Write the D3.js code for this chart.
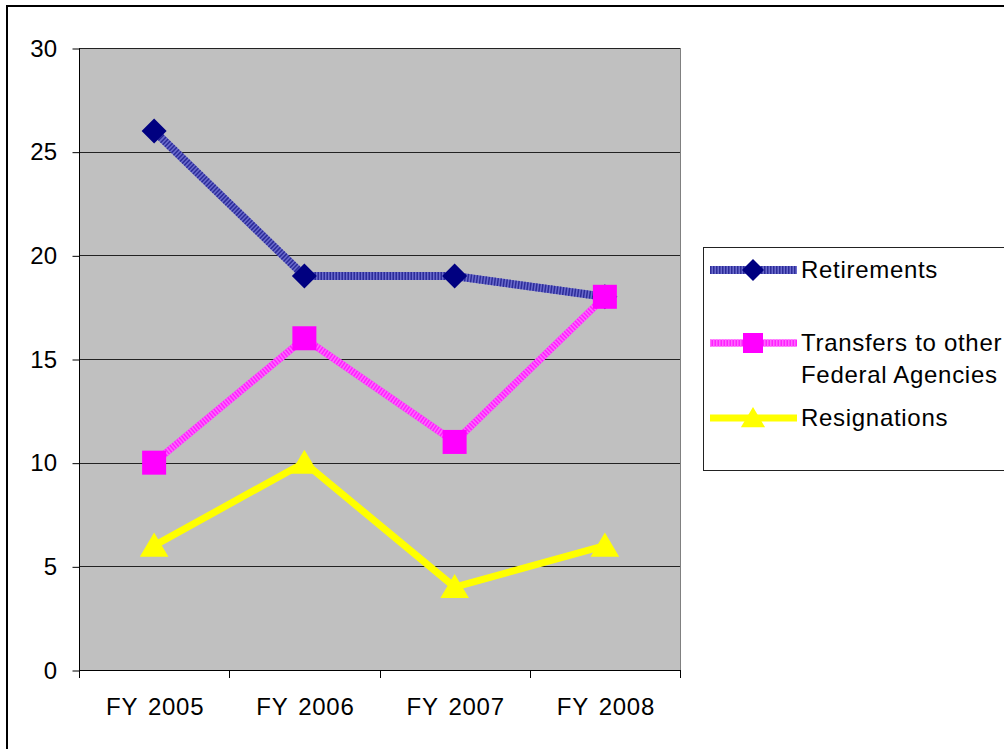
<!DOCTYPE html>
<html><head><meta charset="utf-8">
<script src="https://cdn.jsdelivr.net/npm/d3@7"></script>
<style>body{margin:0;background:#fff;}svg{display:block;font-family:"Liberation Sans",Arial,sans-serif;}</style>
</head><body>
<script>
const categories = ["FY 2005","FY 2006","FY 2007","FY 2008"];
const retirements = [26,19,19,18];
const transfers = [10,16,11,18];
const resignations = [6,10,4,6];
const yTicks = [0,5,10,15,20,25,30];
const seriesNames = ["Retirements","Transfers to other|Federal Agencies","Resignations"];

const W=1004,H=749;
const svg=d3.select("body").append("svg").attr("width",W).attr("height",H);
svg.append("rect").attr("x",7).attr("y",6).attr("width",1100).attr("height",900)
  .attr("fill","#fff").attr("stroke","#000").attr("stroke-width",2);

const plot={l:79,r:680,t:48,b:670};
const x=d3.scaleBand().domain(categories).range([plot.l,plot.r]);
const y=d3.scaleLinear().domain([0,30]).range([plot.b,plot.t]);

svg.append("rect").attr("x",plot.l).attr("y",plot.t).attr("width",plot.r-plot.l).attr("height",plot.b-plot.t)
  .attr("fill","#c0c0c0");
svg.append("line").attr("x1",plot.r+0.5).attr("x2",plot.r+0.5).attr("y1",plot.t).attr("y2",plot.b).attr("stroke","#808080");
svg.append("g").selectAll("line").data(yTicks.filter(d=>d>0)).join("line")
  .attr("x1",plot.l).attr("x2",plot.r).attr("y1",d=>Math.round(y(d))+0.5).attr("y2",d=>Math.round(y(d))+0.5)
  .attr("stroke","#222").attr("stroke-width",1);

const font="24px", ls="0.7px";
const yAxis=svg.append("g").attr("transform",`translate(${plot.l+0.5},0.5)`)
  .call(d3.axisLeft(y).tickValues(yTicks).tickSize(7).tickPadding(15).tickFormat(d3.format("d")));
yAxis.select(".domain").attr("stroke","#000").attr("d",`M0,${plot.t}V${plot.b}`);
yAxis.selectAll(".tick line").attr("stroke","#000");
yAxis.selectAll("text").attr("font-size",font).attr("fill","#000").attr("letter-spacing","0.3px").attr("font-family","Liberation Sans, Arial, sans-serif");

const xg=svg.append("g");
xg.append("line").attr("x1",plot.l).attr("x2",plot.r+1).attr("y1",plot.b+0.5).attr("y2",plot.b+0.5).attr("stroke","#000");
const bounds=categories.map(c=>x(c)).concat([x(categories[categories.length-1])+x.bandwidth()]);
xg.selectAll("line.t").data(bounds).join("line").attr("class","t")
  .attr("x1",d=>Math.round(d)+0.5).attr("x2",d=>Math.round(d)+0.5).attr("y1",plot.b).attr("y2",plot.b+8).attr("stroke","#000");
xg.selectAll("text").data(categories).join("text")
  .attr("x",d=>x(d)+x.bandwidth()/2+1).attr("y",715).attr("text-anchor","middle")
  .attr("font-size",font).attr("letter-spacing",ls).attr("word-spacing","3px").attr("fill","#000").text(d=>d);

const cx=d=>x(d)+x.bandwidth()/2;
const line=vals=>d3.line().x((d,i)=>cx(categories[i])).y(d=>y(d))(vals);

function drawLine(g,d,base,stripe,w){
  g.append("path").attr("d",d).attr("fill","none").attr("stroke",base).attr("stroke-width",w);
  if(stripe) g.append("path").attr("d",d).attr("fill","none").attr("stroke",stripe).attr("stroke-width",w).attr("stroke-dasharray","1.5,1.5");
}
const diamond=(g,px,py,s)=>g.append("path").attr("d",`M${px},${py-s}L${px+s},${py}L${px},${py+s}L${px-s},${py}Z`).attr("fill","#000080");
const square=(g,px,py,s)=>g.append("rect").attr("x",px-s).attr("y",py-s).attr("width",2*s).attr("height",2*s).attr("fill","#ff00ff");
const tri=(g,px,py,s)=>g.append("path").attr("d",`M${px},${py-s}L${px+s*1.1},${py+s*0.85}L${px-s*1.1},${py+s*0.85}Z`).attr("fill","#ffff00");

const series=[
  {vals:retirements,base:"#6a6acc",stripe:"#2c2c98",w:8,mk:diamond,ms:12.5},
  {vals:transfers,base:"#ff22ff",stripe:"#ff66ff",w:7,mk:square,ms:12},
  {vals:resignations,base:"#ffff00",stripe:null,w:7,mk:tri,ms:13}
];
const lg=svg.append("g");
series.forEach(s=>drawLine(lg,line(s.vals),s.base,s.stripe,s.w));
series.forEach(s=>s.vals.forEach((v,i)=>s.mk(lg,cx(categories[i]),y(v),s.ms)));

const leg=svg.append("g");
leg.append("rect").attr("x",703.5).attr("y",247.5).attr("width",400).attr("height",223).attr("fill","#fff").attr("stroke","#222");
const legY=[270,343,418];
const legMs=[11,10,11];
series.forEach((s,i)=>{
  const yy=legY[i];
  drawLine(leg,`M710,${yy}H797`,s.base,s.stripe,s.w);
  s.mk(leg,753,yy,legMs[i]);
  seriesNames[i].split("|").forEach((p,j)=>{
    leg.append("text").attr("x",801).attr("y",yy+8+j*32).attr("font-size",font).attr("letter-spacing",ls).attr("fill","#000").text(p);
  });
});
</script>
</body></html>
